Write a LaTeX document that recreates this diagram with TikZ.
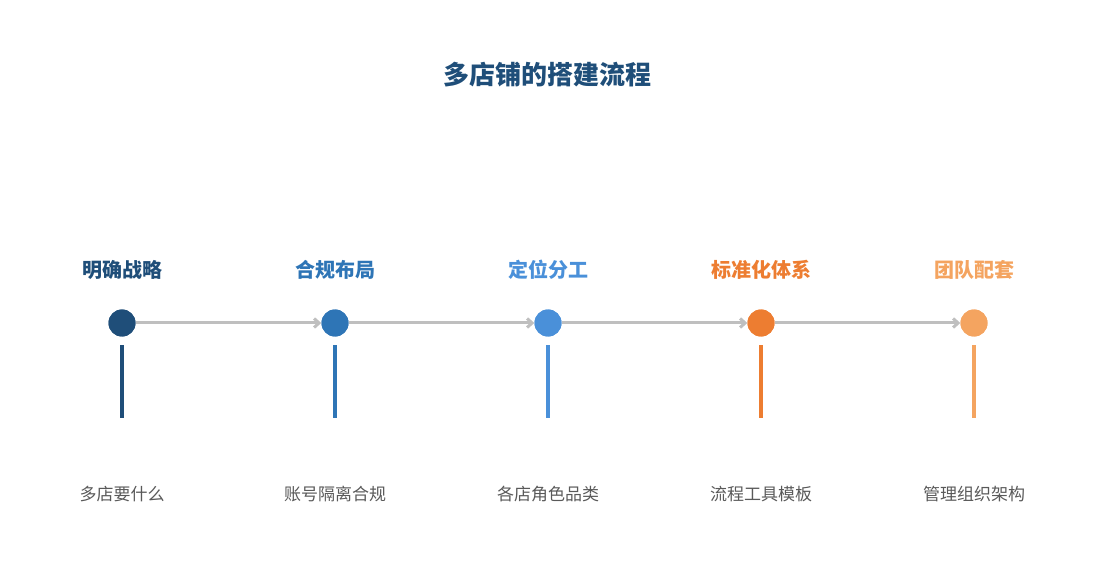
\documentclass[tikz,border=0pt]{standalone}
\usepackage{fontspec}
\newfontfamily\cjk{Noto Sans CJK SC}
\usetikzlibrary{arrows.meta}
\definecolor{c1}{HTML}{1F4E79}
\definecolor{c2}{HTML}{2E75B6}
\definecolor{c3}{HTML}{4A90D9}
\definecolor{c4}{HTML}{ED7D31}
\definecolor{c5}{HTML}{F4A460}
\definecolor{ln}{HTML}{BFBFBF}
\definecolor{tx}{HTML}{595959}
\begin{document}
\begin{tikzpicture}[x=1pt,y=-1pt,
 dot/.style={circle,fill=#1,minimum size=27pt,inner sep=0pt},
 head/.style={text=#1,font=\cjk\bfseries\fontsize{20}{22}\selectfont},
 sub/.style={text=tx,font=\cjk\fontsize{17}{20}\selectfont},
 conn/.style={ln,line width=3pt,-{Straight Barb[length=5pt,width=9pt]}},
 stem/.style={line width=4pt,draw=#1}]
\useasboundingbox (0,0) rectangle (1095,585);
\node[text=c1,font=\cjk\bfseries\fontsize{26}{30}\selectfont] (title) at (547,75) {多店铺的搭建流程};
\foreach \i/\x/\c/\h/\s in {1/122/c1/明确战略/多店要什么,2/335/c2/合规布局/账号隔离合规,3/548/c3/定位分工/各店角色品类,4/761/c4/标准化体系/流程工具模板,5/974/c5/团队配套/管理组织架构}{
 \node[dot=\c] (d\i) at (\x,323) {};
 \node[head=\c] (h\i) at (\x,270) {\h};
 \node[sub] (s\i) at (\x,494) {\s};
 \coordinate (a\i) at (\x,345);
 \coordinate (b\i) at (\x,418);
 \draw[stem=\c] (a\i) -- (b\i);
}
\foreach \i/\j in {1/2,2/3,3/4,4/5}{
 \draw[conn] (d\i) -- (d\j);
}
\foreach \i in {1,...,5}{\node[dot=c\i] at (d\i) {};}
\end{tikzpicture}
\end{document}
